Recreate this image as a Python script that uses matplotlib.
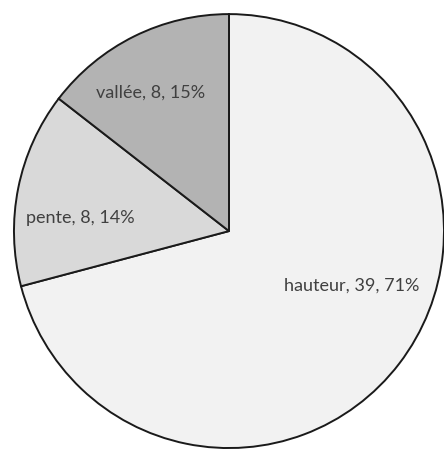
import matplotlib.pyplot as plt

categories = ["hauteur", "pente", "vallée"]
counts = [39, 8, 8]
percent_labels = ["71%", "14%", "15%"]
colors = ["#f2f2f2", "#d9d9d9", "#b3b3b3"]

fig = plt.figure(figsize=(4.44, 4.5), dpi=100)
ax = fig.add_axes([0, 0, 1, 1])

# wedges run clockwise from 12 o'clock
wedges, _ = ax.pie(counts, colors=colors, startangle=90, counterclock=False,
                   radius=1.0, center=(0, 0),
                   wedgeprops=dict(edgecolor="#1a1a1a", linewidth=1.4))

labels = [f"{c}, {n}, {p}" for c, n, p in zip(categories, counts, percent_labels)]
label_pos = [(0.572, -0.253), (-0.693, 0.06), (-0.363, 0.636)]
for text, (x, y) in zip(labels, label_pos):
    ax.text(x, y, text, ha="center", va="center", fontsize=13,
            color="#404040", family="Lato")

ax.set_xlim(-1.065, 1.0)
ax.set_ylim(-1.009, 1.065)
ax.set_aspect("auto")
ax.axis("off")

fig.savefig("out.png", dpi=100)
